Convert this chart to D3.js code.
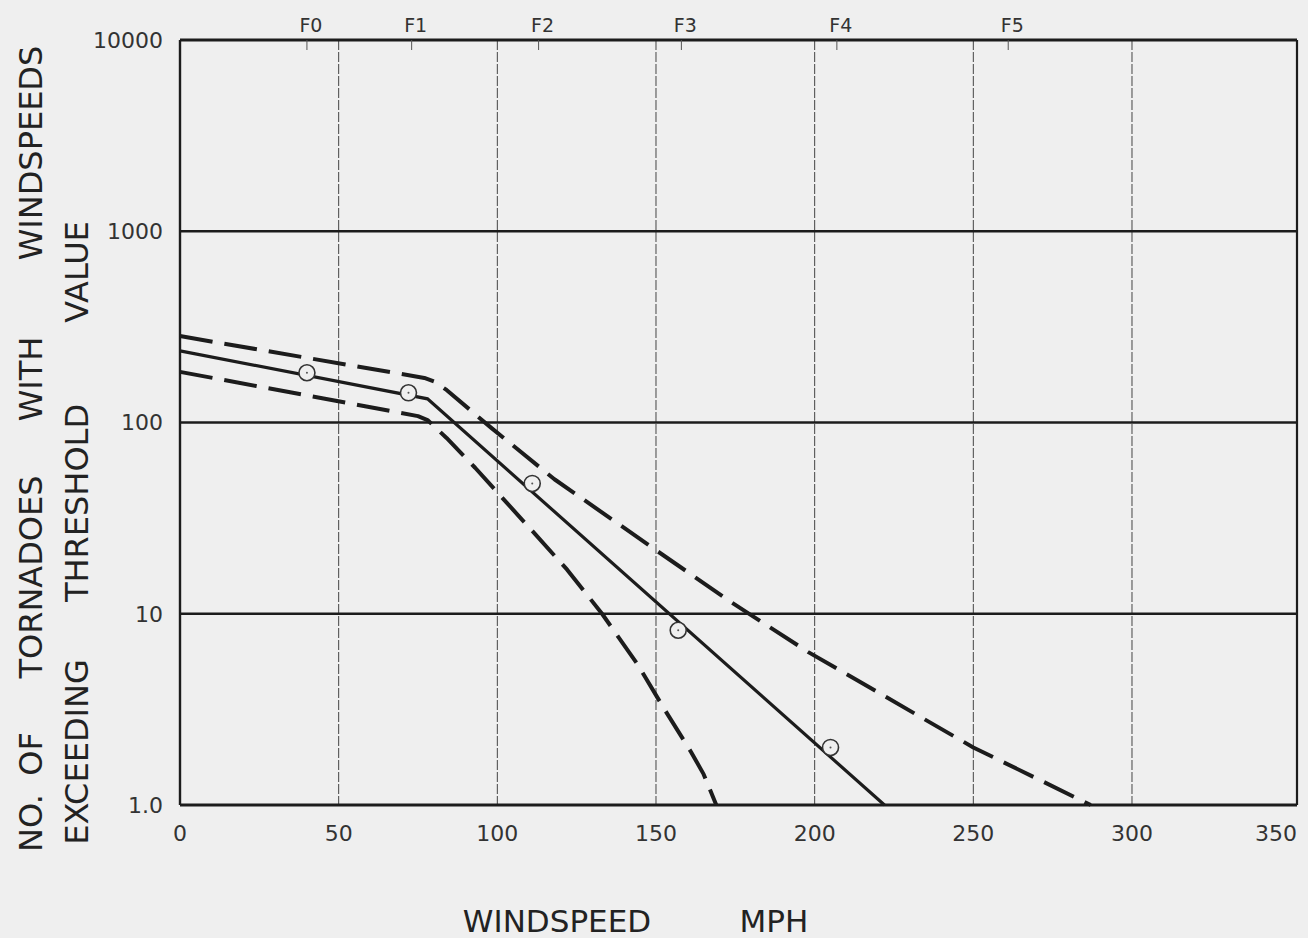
<!DOCTYPE html>
<html>
<head>
<meta charset="utf-8">
<script src="https://cdn.jsdelivr.net/npm/d3@7"></script>
<style>
  html, body { margin: 0; padding: 0; background: #efefef; }
  svg { display: block; }
  text { font-family: "DejaVu Sans", "Liberation Sans", sans-serif; fill: #222; }
</style>
</head>
<body>
<script>
// ---------------- data ----------------
const xTicks = [0, 50, 100, 150, 200, 250, 300, 350];
const xGridTicks = [50, 100, 150, 200, 250, 300];
const yTicks = [1, 10, 100, 1000, 10000];
const yTickLabels = ["1.0", "10", "100", "1000", "10000"];
const fScaleLabels = ["F0", "F1", "F2", "F3", "F4", "F5"];
const fScaleSpeeds = [40, 73, 113, 158, 207, 261];

// observed points (circles)
const observedSpeed = [40, 72, 111, 157, 205];
const observedCount = [182, 143, 48, 8.2, 2.0];

// fitted central line (solid)
const fitSpeed = [0, 78, 222];
const fitCount = [237, 133, 1.0];

// upper bound (dashed)
const upperSpeed = [0, 77, 80, 84, 98, 118, 150, 174, 198, 250, 287];
const upperCount = [283, 171, 164, 148, 94, 50.5, 21.5, 11.4, 6.3, 2.0, 1.0];

// lower bound (dashed)
const lowerSpeed = [0, 75, 78, 84, 93, 103, 112, 122, 133, 144, 153, 161, 165, 169];
const lowerCount = [184, 108, 103, 83, 58, 38, 26, 17, 10, 5.5, 3.1, 1.9, 1.45, 1.0];

const yTitle1 = [["NO.", 823], ["OF", 754], ["TORNADOES", 577], ["WITH", 379], ["WINDSPEEDS", 153]];
const yTitle2 = [["EXCEEDING", 752], ["THRESHOLD", 503], ["VALUE", 272]];
const xTitle = [["WINDSPEED", 557], ["MPH", 774]];

// ---------------- drawing ----------------
const W = 1308, H = 938;
const svg = d3.select("body").append("svg").attr("width", W).attr("height", H);
svg.append("rect").attr("width", W).attr("height", H).attr("fill", "#efefef");

const x = d3.scaleLinear().domain([0, 352]).range([180, 1297]);
const y = d3.scaleLog().domain([1, 10000]).range([805, 40]);

const ink = "#1c1c1c";

// vertical grid lines
svg.append("g").selectAll("line").data(xGridTicks).join("line")
  .attr("x1", d => x(d)).attr("x2", d => x(d))
  .attr("y1", y(10000)).attr("y2", y(1))
  .attr("stroke", "#444").attr("stroke-width", 1)
  .attr("stroke-dasharray", "10,2");

// horizontal grid lines
svg.append("g").selectAll("line").data(yTicks.slice(1, 4)).join("line")
  .attr("x1", x(0)).attr("x2", x(352))
  .attr("y1", d => y(d)).attr("y2", d => y(d))
  .attr("stroke", ink).attr("stroke-width", 2.4);

// frame
const frame = svg.append("g").attr("stroke", ink).attr("fill", "none");
frame.append("line").attr("x1", x(0)).attr("x2", x(352)).attr("y1", y(10000)).attr("y2", y(10000)).attr("stroke-width", 3.2);
frame.append("line").attr("x1", x(0)).attr("x2", x(352)).attr("y1", y(1)).attr("y2", y(1)).attr("stroke-width", 3.2);
frame.append("line").attr("x1", x(0)).attr("x2", x(0)).attr("y1", y(10000)).attr("y2", y(1)).attr("stroke-width", 2.4);
frame.append("line").attr("x1", x(352)).attr("x2", x(352)).attr("y1", y(10000)).attr("y2", y(1)).attr("stroke-width", 2.2);

// y tick labels
svg.append("g").selectAll("text").data(yTicks).join("text")
  .attr("x", 163).attr("y", d => y(d)).attr("dy", "0.36em")
  .attr("text-anchor", "end").attr("font-size", 22).style("fill", "#333")
  .text((d, i) => yTickLabels[i]);

// x tick labels (last one pulled in to stay inside the frame edge, as in the original)
svg.append("g").selectAll("text").data(xTicks).join("text")
  .attr("x", d => Math.min(x(d), 1276)).attr("y", 841)
  .attr("text-anchor", "middle").attr("font-size", 22).style("fill", "#333")
  .text(d => d);

// F-scale labels and small ticks along top
svg.append("g").selectAll("text").data(fScaleSpeeds).join("text")
  .attr("x", d => x(d) + 4).attr("y", 32)
  .attr("text-anchor", "middle").attr("font-size", 19).style("fill", "#333")
  .text((d, i) => fScaleLabels[i]);
svg.append("g").selectAll("line").data(fScaleSpeeds).join("line")
  .attr("x1", d => x(d)).attr("x2", d => x(d))
  .attr("y1", y(10000)).attr("y2", y(10000) + 10)
  .attr("stroke", "#555").attr("stroke-width", 1);

// curves
const lineLinear = d3.line().x(d => x(d[0])).y(d => y(d[1]));

const zip = (a, b) => a.map((v, i) => [v, b[i]]);

svg.append("path").datum(zip(upperSpeed, upperCount))
  .attr("d", lineLinear).attr("fill", "none").attr("stroke", ink)
  .attr("stroke-width", 4).attr("stroke-dasharray", "33,12").attr("stroke-linejoin", "round");
svg.append("path").datum(zip(lowerSpeed, lowerCount))
  .attr("d", lineLinear).attr("fill", "none").attr("stroke", ink)
  .attr("stroke-width", 4).attr("stroke-dasharray", "33,12").attr("stroke-linejoin", "round");
svg.append("path").datum(zip(fitSpeed, fitCount))
  .attr("d", lineLinear).attr("fill", "none").attr("stroke", ink)
  .attr("stroke-width", 3.2);

// observed circles
const pts = svg.append("g").selectAll("g").data(zip(observedSpeed, observedCount)).join("g")
  .attr("transform", d => `translate(${x(d[0])},${y(d[1])})`);
pts.append("circle").attr("r", 8).attr("fill", "#efefef").attr("stroke", "#333").attr("stroke-width", 1.6);
pts.append("circle").attr("r", 1).attr("fill", "#555");

// axis titles
svg.append("g").selectAll("text").data(yTitle1).join("text")
  .attr("transform", d => `translate(42,${d[1]}) rotate(-90)`)
  .attr("text-anchor", "middle").attr("font-size", 32)
  .text(d => d[0]);
svg.append("g").selectAll("text").data(yTitle2).join("text")
  .attr("transform", d => `translate(88,${d[1]}) rotate(-90)`)
  .attr("text-anchor", "middle").attr("font-size", 32)
  .text(d => d[0]);
svg.append("g").selectAll("text").data(xTitle).join("text")
  .attr("x", d => d[1]).attr("y", 932)
  .attr("text-anchor", "middle").attr("font-size", 31)
  .text(d => d[0]);
</script>
</body>
</html>
